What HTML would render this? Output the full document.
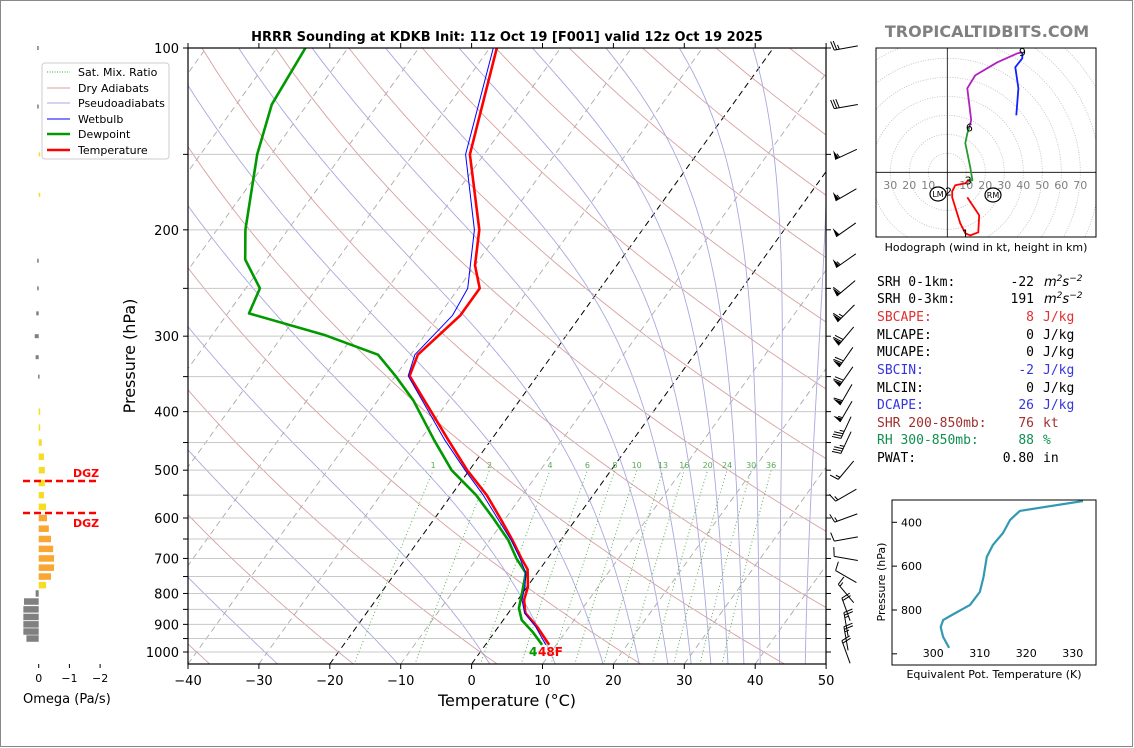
<!DOCTYPE html>
<html><head><meta charset="utf-8">
<style>
html,body{margin:0;padding:0;background:#fff;}
svg{display:block;font-family:"DejaVu Sans","Liberation Sans",sans-serif;}
.mono{font-family:"DejaVu Sans Mono","Liberation Mono",monospace;font-size:13px;}
</style></head>
<body>
<svg id="fig" width="1134" height="748" viewBox="0 0 1134 748" xmlns="http://www.w3.org/2000/svg">
<rect x="0.5" y="0.5" width="1132" height="746" fill="#fff" stroke="#888"/>
<defs>
<clipPath id="plotclip"><rect x="188" y="48" width="638" height="616"/></clipPath>
<clipPath id="hodoclip"><rect x="876" y="48" width="220" height="189"/></clipPath>
<clipPath id="theclip"><rect x="892" y="500" width="204" height="165"/></clipPath>
</defs>
<text x="507" y="41" text-anchor="middle" font-size="13" font-weight="bold">HRRR Sounding at KDKB Init: 11z Oct 19 [F001] valid 12z Oct 19 2025</text>
<text x="987" y="37" text-anchor="middle" font-size="16" font-weight="bold" fill="#808080">TROPICALTIDBITS.COM</text>

<g id="bg" clip-path="url(#plotclip)"></g>
<g id="grid"></g>
<g id="series" clip-path="url(#plotclip)"></g>
<rect x="188" y="48" width="638" height="616" fill="none" stroke="#000" stroke-width="1.2"/>
<g id="axes"></g>
<text x="0" y="0" transform="translate(135,356) rotate(-90)" text-anchor="middle" font-size="16">Pressure (hPa)</text>
<text x="507" y="706" text-anchor="middle" font-size="16">Temperature (°C)</text>
<text x="529" y="656" font-size="12" font-weight="bold" fill="#009900">4</text>
<text x="538" y="656" font-size="12" font-weight="bold" fill="#ff0000">48F</text>

<g>
<rect x="42" y="63" width="127" height="96" rx="3" fill="#fff" stroke="#ccc"/>
<line x1="47" y1="72" x2="70" y2="72" stroke="#3a3" stroke-dasharray="1,1.5"/>
<text x="78" y="76" font-size="11">Sat. Mix. Ratio</text>
<line x1="47" y1="88" x2="70" y2="88" stroke="#d9a0a0"/>
<text x="78" y="92" font-size="11">Dry Adiabats</text>
<line x1="47" y1="103" x2="70" y2="103" stroke="#a8a8e0"/>
<text x="78" y="107" font-size="11">Pseudoadiabats</text>
<line x1="47" y1="119" x2="70" y2="119" stroke="#00f"/>
<text x="78" y="123" font-size="11">Wetbulb</text>
<line x1="47" y1="134" x2="70" y2="134" stroke="#009900" stroke-width="2.5"/>
<text x="78" y="138" font-size="11">Dewpoint</text>
<line x1="47" y1="150" x2="70" y2="150" stroke="#f00" stroke-width="2.5"/>
<text x="78" y="154" font-size="11">Temperature</text>
</g>

<g id="omega"></g>
<text x="23" y="703" font-size="13">Omega (Pa/s)</text>
<line x1="23" y1="481" x2="98" y2="481" stroke="#f00" stroke-width="2.5" stroke-dasharray="7,4"/>
<line x1="23" y1="513" x2="98" y2="513" stroke="#f00" stroke-width="2.5" stroke-dasharray="7,4"/>
<text x="73" y="477" font-size="11" font-weight="bold" fill="#f00">DGZ</text>
<text x="73" y="527" font-size="11" font-weight="bold" fill="#f00">DGZ</text>

<g id="barbs"></g>

<g id="hodo"></g>
<rect x="876" y="48" width="220" height="189" fill="none" stroke="#000"/>
<text x="986" y="251" text-anchor="middle" font-size="11">Hodograph (wind in kt, height in km)</text>

<g class="mono">
<text x="877" y="286">SRH 0-1km:</text><text x="1034" y="286" text-anchor="end">-22</text><text x="1044" y="286" font-style="italic" font-family="DejaVu Sans">m<tspan dy="-5" font-size="9">2</tspan><tspan dy="5">s</tspan><tspan dy="-5" font-size="9">−2</tspan></text>
<text x="877" y="303">SRH 0-3km:</text><text x="1034" y="303" text-anchor="end">191</text><text x="1044" y="303" font-style="italic" font-family="DejaVu Sans">m<tspan dy="-5" font-size="9">2</tspan><tspan dy="5">s</tspan><tspan dy="-5" font-size="9">−2</tspan></text>
<text x="877" y="321" fill="#e03030">SBCAPE:</text><text x="1034" y="321" text-anchor="end" fill="#e03030">8</text><text x="1043" y="321" fill="#e03030">J/kg</text>
<text x="877" y="339">MLCAPE:</text><text x="1034" y="339" text-anchor="end">0</text><text x="1043" y="339">J/kg</text>
<text x="877" y="356">MUCAPE:</text><text x="1034" y="356" text-anchor="end">0</text><text x="1043" y="356">J/kg</text>
<text x="877" y="374" fill="#3535e0">SBCIN:</text><text x="1034" y="374" text-anchor="end" fill="#3535e0">-2</text><text x="1043" y="374" fill="#3535e0">J/kg</text>
<text x="877" y="392">MLCIN:</text><text x="1034" y="392" text-anchor="end">0</text><text x="1043" y="392">J/kg</text>
<text x="877" y="409" fill="#3535e0">DCAPE:</text><text x="1034" y="409" text-anchor="end" fill="#3535e0">26</text><text x="1043" y="409" fill="#3535e0">J/kg</text>
<text x="877" y="427" fill="#a03030">SHR 200-850mb:</text><text x="1034" y="427" text-anchor="end" fill="#a03030">76</text><text x="1043" y="427" fill="#a03030">kt</text>
<text x="877" y="444" fill="#109050">RH 300-850mb:</text><text x="1034" y="444" text-anchor="end" fill="#109050">88</text><text x="1043" y="444" fill="#109050">%</text>
<text x="877" y="462">PWAT:</text><text x="1034" y="462" text-anchor="end">0.80</text><text x="1043" y="462">in</text>
</g>

<g id="thetae"></g>
<rect x="892" y="500" width="204" height="165" fill="none" stroke="#000"/>
<text x="0" y="0" transform="translate(885,582) rotate(-90)" text-anchor="middle" font-size="11">Pressure (hPa)</text>
<text x="994" y="678" text-anchor="middle" font-size="11">Equivalent Pot. Temperature (K)</text>
</svg>
<script>
// ---- data ----
const tempP = [100,150,200,229,250,277,322,349,446,500,550,600,653,700,730,780,820,862,909,973];
const tempT = [-59,-52,-43,-40,-37,-37,-39,-38,-26,-20.3,-15,-10.8,-6.8,-3.7,-1.7,0.1,0.9,2.4,5.5,9];
const dewP = [100,124,150,200,224,250,275,299,322,349,383,446,500,550,600,653,700,740,798,846,885,927,973];
const dewT = [-86,-85,-82,-76,-73,-68,-67,-54,-44.6,-40,-35,-28,-22.5,-16.5,-11.8,-7.4,-4.4,-1.6,-0.1,1.0,2.6,5.4,8.0];
const wbP = [100,150,200,250,277,322,349,446,500,550,600,653,700,740,780,820,862,909,973];
const wbT = [-59.5,-52.6,-43.7,-38.7,-38.1,-39.4,-38.2,-26.5,-20.6,-15.5,-11.2,-7.0,-3.9,-1.6,-0.3,0.6,2.3,5.3,8.5];
const omegaP = [100,125,150,175,225,250,275,300,325,350,400,425,450,475,500,525,550,575,600,625,650,675,700,725,750,775,800,825,850,875,900,925,950];
const omegaV = [0.05,0.05,-0.03,-0.05,0.05,0.05,0.08,0.13,0.1,0.02,-0.02,-0.03,-0.1,-0.17,-0.2,-0.2,-0.17,-0.24,-0.27,-0.33,-0.4,-0.47,-0.5,-0.5,-0.4,-0.24,0.1,0.48,0.5,0.5,0.5,0.5,0.4];
const barbP = [100,125,150,175,200,225,250,275,300,325,350,375,400,425,450,500,550,600,650,700,750,800,850,900,950,1000];
const barbSpd = [25,30,55,55,50,55,60,65,70,70,70,60,55,35,35,15,15,15,10,10,10,15,20,25,25,20];
const barbDir = [260,260,245,240,235,235,230,225,220,215,215,210,210,205,205,220,240,250,260,280,300,320,340,350,350,340];
const hodoRedU = [10.5,16.8,16.3,12.1,9.5,6.8,2.6,2.6,4.2,9.5,11];
const hodoRedV = [-13.2,-22.6,-31.6,-33.2,-32.1,-26.8,-13.2,-10,-6.8,-5.8,-4.2];
const hodoGreenU = [11,13.2,12.1,9.5,10.5,11.6];
const hodoGreenV = [-4.2,-4.2,2.6,15.3,20.5,23.7];
const hodoMagU = [11.6,12.6,10.5,14.7,26.3,36.8,39.5];
const hodoMagV = [23.7,27.4,44.2,51,57.9,62.6,63.2];
const hodoBlueU = [39.5,39.5,35.8,37.4,36.3];
const hodoBlueV = [63.2,60,55.3,44.2,30];
const thetaP = [303,348,390,449,504,558,650,718,777,823,846,878,923,973];
const thetaV = [332.2,318.6,316.5,315.0,312.8,311.5,310.8,310.0,307.9,304.0,302.1,301.6,302.1,303.4];
const tempTicks = [-40,-30,-20,-10,0,10,20,30,40,50];
const presTicks = [100,200,300,400,500,600,700,800,900,1000];
const mixRatios = [1,2,4,6,8,10,13,16,20,24,30,36];

const NS="http://www.w3.org/2000/svg";
function mk(tag, attrs, parent){const e=document.createElementNS(NS,tag);for(const k in attrs)e.setAttribute(k,attrs[k]);parent.appendChild(e);return e;}
const yP = p => 48 + 604*Math.log10(p/100);
const xTy = (T,y) => 471.6 + 7.09*T + 0.72*(664-y);
const xT = (T,p) => xTy(T,yP(p));
const bg=document.getElementById('bg'), grid=document.getElementById('grid'), series=document.getElementById('series'), axes=document.getElementById('axes');

// isotherms
for(let T=-130;T<=50;T+=10){
  const black=(T===0||T===-20);
  const el=mk('line',{x1:xTy(T,664),y1:664,x2:xTy(T,48),y2:48,stroke:black?'#000':'#aaa','stroke-width':black?1:0.9,'stroke-dasharray':'6,4'},bg);
  
  
}
// dry adiabats
for(let c=-60;c<=260;c+=20){
  const th=273.15+c;
  let d='';
  for(let p=1050;p>=100;p-=10){const T=th*Math.pow(p/1000,0.2857)-273.15;d+=(d?'L':'M')+xT(T,p).toFixed(1)+','+yP(p).toFixed(1);}
  const el=mk('path',{d:d,fill:'none',stroke:'#d9a0a0','stroke-width':0.9},bg);
  
  
}
// pseudoadiabats (integrated downward from 100 hPa, equal theta-e spacing)
function lapse(T,p){const es=6.112*Math.exp(17.67*(T-273.15)/(T-29.65));const rs=0.622*es/Math.max(p-es,1);return (287*T+2.5e6*rs)/(p*(1005+2.5e6*2.5e6*rs*0.622/(287*T*T)));}
for(let c=-30;c<=250;c+=20){
  let T=(273.15+c)*Math.pow(0.1,0.2857);let d='';
  for(let p=100;p<=1050;p+=2){
    d+=(d?'L':'M')+xT(T-273.15,p).toFixed(1)+','+yP(p).toFixed(1);
    T+=lapse(T,p)*2;
  }
  const el=mk('path',{d:d,fill:'none',stroke:'#a8a8e0','stroke-width':0.9},bg);
  
  
}
// mixing ratio
mixRatios.forEach(w=>{
  let d='';
  for(let p=1050;p>=500;p-=10){const e=w*p/(622+w);const l=Math.log(e/6.112);const Td=243.5*l/(17.67-l);d+=(d?'L':'M')+xT(Td,p).toFixed(1)+','+yP(p).toFixed(1);}
  const el=mk('path',{d:d,fill:'none',stroke:'#4a4','stroke-width':0.9,'stroke-dasharray':'1,2.5'},bg);
  
  
  const e5=w*500/(622+w);const l5=Math.log(e5/6.112);const Td5=243.5*l5/(17.67-l5);
  const t=mk('text',{x:xT(Td5,500).toFixed(1),y:468,'text-anchor':'middle','font-size':8,fill:'#5a5'},bg);
  t.textContent=w;
  
  
});
// pressure gridlines
for(let p=150;p<=1000;p+=50){
  const el=mk('line',{x1:188,y1:yP(p),x2:826,y2:yP(p),stroke:'#c8c8c8','stroke-width':1},grid);
  
  
}
// series
function line(P,T,color,w,name){
  const d=P.map((p,i)=>(i?'L':'M')+xT(T[i],p).toFixed(1)+','+yP(p).toFixed(1)).join('');
  const el=mk('path',{d:d,fill:'none',stroke:color,'stroke-width':w,'stroke-linejoin':'round'},series);
  
  
}
line(dewP,dewT,'#009900',2.6,'dewpoint-line');
line(tempP,tempT,'#ff0000',2.6,'temperature-line');
line(wbP,wbT,'#0000ff',1,'wetbulb-line');
// axes ticks
tempTicks.forEach(T=>{
  const x=471.6+7.09*T;
  const tk=mk('line',{x1:x,y1:664,x2:x,y2:669,stroke:'#000'},axes);
  
  
  const tp=mk('line',{x1:x,y1:48,x2:x,y2:43,stroke:'#000'},axes);
  
  
  const t=mk('text',{x:x,y:685,'text-anchor':'middle','font-size':13},axes);
  t.textContent=(T<0?'\u2212'+(-T):T);
  
  
});
for(let p=100;p<=1000;p+=50){
  const y=yP(p);
  const a=mk('line',{x1:183,y1:y,x2:188,y2:y,stroke:'#000'},axes);
  
  
  const b=mk('line',{x1:826,y1:y,x2:831,y2:y,stroke:'#000'},axes);
  
  
}
presTicks.forEach(p=>{
  const t=mk('text',{x:179,y:yP(p)+5,'text-anchor':'end','font-size':13},axes);
  t.textContent=p;
  
  
});
// omega panel
const om=document.getElementById('omega');
const xO = v => 38.7 - v*30.7;
omegaP.forEach((p,i)=>{
  const v=omegaV[i];const y=yP(p);const h=p<380?4:6.5;
  const x0=Math.min(xO(0),xO(v)),w=Math.max(1.5,Math.abs(xO(v)-xO(0)));
  const col=v>0?'#808080':(v<=-0.25?'#f9a633':'#f5dc25');
  const r=mk('rect',{x:x0,y:y-h/2,width:w,height:h,fill:col},om);
  
  
});
[0,-1,-2].forEach(v=>{
  const tk=mk('line',{x1:xO(v),y1:664,x2:xO(v),y2:668,stroke:'#000'},om);
  
  
  const t=mk('text',{x:xO(v),y:682,'text-anchor':'middle','font-size':11},om);
  t.textContent=v===0?'0':'\u2212'+(-v);
  
  
});
// wind barbs
const bb=document.getElementById('barbs');
barbP.forEach((p,i)=>{
  const s=barbSpd[i],dir=barbDir[i]*Math.PI/180;
  const ax=846,ay=yP(p);
  const dx=Math.sin(dir),dy=-Math.cos(dir);
  const L=24;const tx=ax+dx*L/2,ty=ay+dy*L/2,sx=ax-dx*L/2,sy=ay-dy*L/2;
  const st=mk('line',{x1:sx,y1:sy,x2:tx,y2:ty,stroke:'#000','stroke-width':1},bb);
  
  
  const px=-dy,py=dx;let rem=Math.round(s/5)*5;let pos=0;
  while(rem>=50){
    const bx=tx-dx*pos,by=ty-dy*pos;
    const f=mk('polygon',{points:`${bx},${by} ${bx+px*9-dx*2},${by+py*9-dy*2} ${bx-dx*4},${by-dy*4}`,fill:'#000'},bb);
    
    
    pos+=5;rem-=50;
  }
  while(rem>=10){
    const bx=tx-dx*pos,by=ty-dy*pos;
    const f=mk('line',{x1:bx,y1:by,x2:bx+px*9+dx*2,y2:by+py*9+dy*2,stroke:'#000'},bb);
    
    
    pos+=2.6;rem-=10;
  }
  if(rem>=5){
    if(pos===0)pos=2.6;
    const bx=tx-dx*pos,by=ty-dy*pos;
    const f=mk('line',{x1:bx,y1:by,x2:bx+px*4.5+dx,y2:by+py*4.5+dy,stroke:'#000'},bb);
    
    
  }
});
// hodograph
const hg=document.getElementById('hodo');
const hx=u=>947.3+u*1.9, hy=v=>172.3-v*1.9;
const hc=mk('g',{'clip-path':'url(#hodoclip)'},hg);


for(let r=10;r<=90;r+=10){
  const c=mk('circle',{cx:hx(0),cy:hy(0),r:r*1.9,fill:'none',stroke:'#bbb','stroke-width':0.8,'stroke-dasharray':'1,1.5'},hc);
  
  
}
const ha=mk('line',{x1:876,y1:hy(0),x2:1096,y2:hy(0),stroke:'#000','stroke-width':0.8},hc);


const hb=mk('line',{x1:hx(0),y1:48,x2:hx(0),y2:237,stroke:'#000','stroke-width':0.8},hc);


[-30,-20,-10,10,20,30,40,50,60,70].forEach(u=>{
  const t=mk('text',{x:hx(u),y:189,'text-anchor':'middle','font-size':11,fill:'#808080'},hc);
  t.textContent=Math.abs(u);
  
  
});
function hline(U,V,col,name){
  const d=U.map((u,i)=>(i?'L':'M')+hx(u).toFixed(1)+','+hy(V[i]).toFixed(1)).join('');
  const el=mk('path',{d:d,fill:'none',stroke:col,'stroke-width':1.8,'stroke-linejoin':'round'},hc);
  
  
}
hline(hodoRedU,hodoRedV,'#ff0000','hodograph-0-3km');
hline(hodoGreenU,hodoGreenV,'#2a9a2a','hodograph-3-6km');
hline(hodoMagU,hodoMagV,'#b020c0','hodograph-6-9km');
hline(hodoBlueU,hodoBlueV,'#1020ff','hodograph-9-12km');
[['1',hodoRedU[4],hodoRedV[4]],['2',hodoRedU[7]-2,hodoRedV[7]],['3',hodoRedU[10],hodoRedV[10]],['6',hodoGreenU[5],hodoGreenV[5]],['9',hodoMagU[6],hodoMagV[6]]].forEach(a=>{
  const t=mk('text',{x:hx(a[1]),y:hy(a[2])+4,'text-anchor':'middle','font-size':11},hc);
  t.textContent=a[0];
  
  
});
[['LM',938,194],['RM',993,195]].forEach(a=>{
  const c=mk('ellipse',{cx:a[1],cy:a[2],rx:8,ry:7,fill:'#fff',stroke:'#000','stroke-width':1.2},hg);
  
  
  const t=mk('text',{x:a[1],y:a[2]+3,'text-anchor':'middle','font-size':8},hg);
  t.textContent=a[0];
  
  
});
// theta-e panel
const te=document.getElementById('thetae');
const xE=v=>933.3+(v-300)*4.65, yE=p=>522.3+(p-400)*0.2192;
const tc=mk('g',{'clip-path':'url(#theclip)'},te);


const td=thetaP.map((p,i)=>(i?'L':'M')+xE(thetaV[i]).toFixed(1)+','+yE(p).toFixed(1)).join('');
const tl=mk('path',{d:td,fill:'none',stroke:'#3399b3','stroke-width':2.2,'stroke-linejoin':'round'},tc);


[400,600,800,1000].forEach(p=>{
  const k=mk('line',{x1:892,y1:yE(p),x2:897,y2:yE(p),stroke:'#000'},te);
  
  
  if(p<1000){
    const t=mk('text',{x:901,y:yE(p)+4,'font-size':11},te);
    t.textContent=p;
    
    
  }
});
[300,310,320,330].forEach(v=>{
  const t=mk('text',{x:xE(v),y:657,'text-anchor':'middle','font-size':11},te);
  t.textContent=v;
  
  
});
</script>
</body></html>
